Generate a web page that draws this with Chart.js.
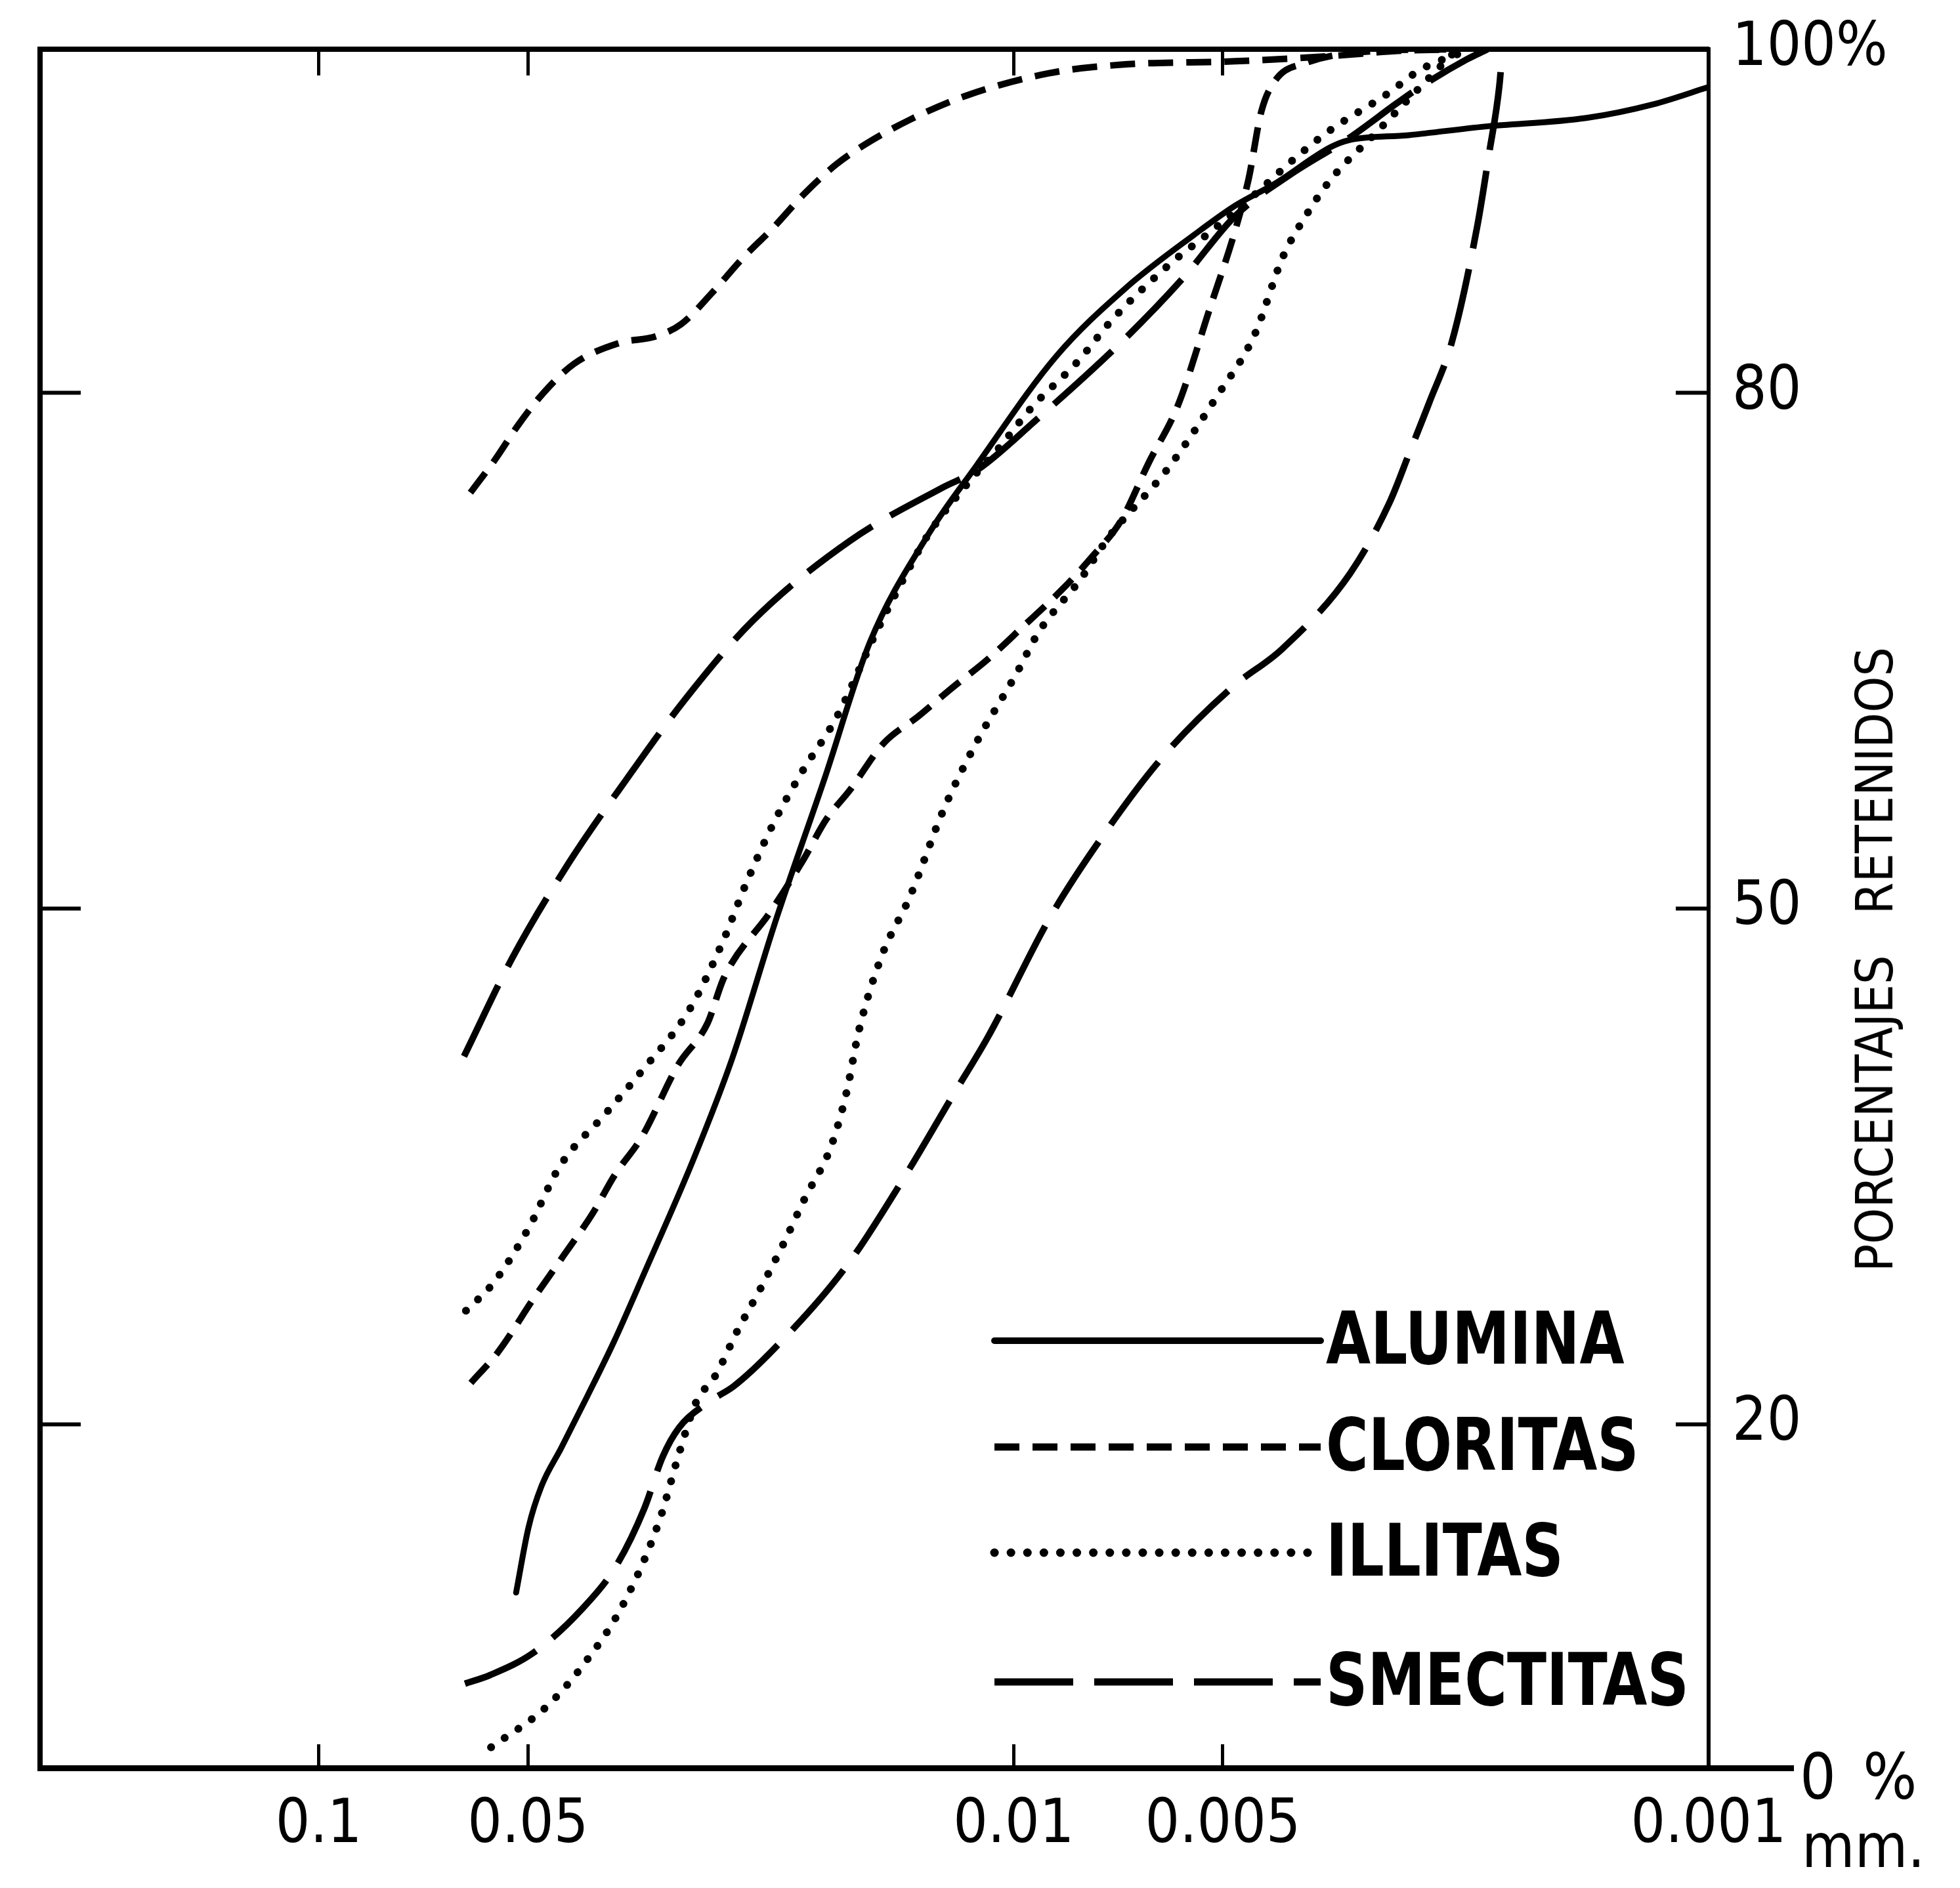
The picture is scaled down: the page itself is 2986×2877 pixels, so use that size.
<!DOCTYPE html>
<html>
<head>
<meta charset="utf-8">
<title>Porcentajes retenidos</title>
<script src="https://cdn.jsdelivr.net/npm/chart.js@4.4.0/dist/chart.umd.min.js"></script>
<style>
  html, body { margin: 0; padding: 0; background: #fff; }
  #wrap { position: relative; width: 2986px; height: 2877px; overflow: hidden; }
  #chart { position: absolute; left: 0; top: 0; }
  .label {
    position: absolute;
    color: #000;
    white-space: nowrap;
    font-family: "Liberation Sans Narrow", "DejaVu Sans Condensed", "Liberation Sans", sans-serif;
  }
  #yTitle {
    left: 2856px;
    top: 1462px;
    font-size: 78px;
    word-spacing: 40px;
    transform: translate(-50%, -50%) rotate(-90deg);
  }
  #unit { left: 2745px; top: 2760px; font-size: 92px; }
  #zero { left: 2742px; top: 2652px; font-size: 96px; word-spacing: 14px; }
</style>
</head>
<body>
<div id="wrap">
  <canvas id="chart" width="2986" height="2877"></canvas>
  <div class="label" id="yTitle">PORCENTAJES RETENIDOS</div>
  <div class="label" id="zero">0 %</div>
  <div class="label" id="unit">mm.</div>
</div>
<script>
// grain size (mm) and retained percentage
const aluminaSize = [0.0520, 0.0499, 0.0478, 0.0448, 0.0411, 0.0376, 0.0340, 0.0289, 0.0254, 0.0220, 0.0187, 0.0161, 0.0133, 0.0113, 0.0087, 0.0069, 0.0055, 0.0048, 0.0042, 0.0035, 0.0033, 0.0027, 0.0021, 0.0015, 0.0012, 0.0010];
const aluminaPct = [10.2, 14.0, 16.4, 18.6, 21.6, 24.8, 28.8, 35.4, 41.3, 49.3, 57.6, 65.5, 71.7, 75.8, 82.1, 86.1, 89.2, 90.9, 92.2, 94.3, 94.7, 95.0, 95.5, 96.0, 96.8, 97.8];

const cloritasUpperSize = [0.0605, 0.0558, 0.0515, 0.0475, 0.0429, 0.0370, 0.0327, 0.0301, 0.0272, 0.0246, 0.0222, 0.0200, 0.0180, 0.0163, 0.0141, 0.0117, 0.0089, 0.0070, 0.0048, 0.0035, 0.0028, 0.0023];
const cloritasUpperPct = [74.2, 76.1, 78.2, 80.0, 81.7, 82.9, 83.3, 84.0, 85.8, 87.8, 89.6, 91.6, 93.3, 94.5, 95.9, 97.3, 98.6, 99.1, 99.3, 99.6, 99.9, 100];

const cloritasLowerSize = [0.0604, 0.0552, 0.0489, 0.0448, 0.0403, 0.0375, 0.0343, 0.0304, 0.0276, 0.0261, 0.0224, 0.0201, 0.0186, 0.0172, 0.0154, 0.0137, 0.0123, 0.0109, 0.0097, 0.0085, 0.0077, 0.0070, 0.0064, 0.0058, 0.0053, 0.0046, 0.0044, 0.0042, 0.0038, 0.0030, 0.0023];
const cloritasLowerPct = [22.4, 24.2, 27.4, 29.6, 32.3, 34.5, 36.7, 40.9, 43.3, 46.0, 49.8, 52.8, 55.2, 56.9, 59.6, 61.2, 62.8, 64.5, 66.4, 68.6, 70.5, 72.6, 75.9, 79.3, 84.1, 92.3, 96.4, 98.2, 99.2, 99.9, 100];

const illitasLeftSize = [0.0614, 0.0561, 0.0499, 0.0450, 0.0386, 0.0342, 0.0293, 0.0262, 0.0243, 0.0222, 0.0202, 0.0180, 0.0158, 0.0144, 0.0133, 0.0115, 0.0106, 0.0094, 0.0081, 0.0072, 0.0060, 0.0052, 0.0046, 0.0039, 0.0035, 0.0029, 0.0026, 0.0022];
const illitasLeftPct = [26.6, 28.2, 31.4, 35.0, 38.1, 40.6, 44.1, 48.1, 51.4, 54.9, 57.9, 61.1, 66.0, 69.2, 71.7, 75.0, 76.6, 79.2, 81.8, 84.3, 87.4, 89.4, 91.2, 93.8, 95.3, 97.4, 98.8, 100];

const illitasRightSize = [0.0565, 0.0472, 0.0418, 0.0366, 0.0324, 0.0302, 0.0287, 0.0268, 0.0250, 0.0232, 0.0215, 0.0200, 0.0183, 0.0174, 0.0167, 0.0155, 0.0141, 0.0126, 0.0113, 0.0099, 0.0092, 0.0080, 0.0073, 0.0060, 0.0051, 0.0045, 0.0041, 0.0038, 0.0035, 0.0030, 0.0026, 0.0023];
const illitasRightPct = [1.2, 3.5, 5.9, 9.4, 14.3, 18.5, 21.2, 22.9, 25.4, 27.8, 30.4, 33.1, 36.2, 39.3, 42.9, 47.2, 50.7, 55.8, 59.7, 63.7, 66.1, 69.2, 71.6, 75.6, 79.8, 83.4, 87.9, 90.3, 92.4, 95.2, 97.8, 100];

const smectitasLeftSize = [0.0618, 0.0527, 0.0436, 0.0361, 0.0298, 0.0238, 0.0172, 0.01265, 0.0113, 0.0093, 0.0069, 0.0057, 0.0048, 0.0040, 0.0033, 0.0028, 0.0026, 0.00223, 0.00208];
const smectitasLeftPct = [41.4, 47.1, 52.7, 57.5, 62.1, 66.7, 71.4, 74.5, 75.5, 78.4, 83.2, 86.7, 90.3, 92.7, 94.8, 96.9, 97.8, 99.4, 100];

const smectitasRightSize = [0.0616, 0.0567, 0.0491, 0.0419, 0.0374, 0.0340, 0.0320, 0.0303, 0.0272, 0.0253, 0.0221, 0.0174, 0.0143, 0.0122, 0.0109, 0.00886, 0.00742, 0.00611, 0.00484, 0.00411, 0.00328, 0.00288, 0.00269, 0.00252, 0.00234, 0.00215, 0.00207, 0.00200, 0.00198];
const smectitasRightPct = [4.9, 5.4, 6.7, 9.2, 11.7, 15.1, 18.1, 19.8, 21.4, 22.2, 24.4, 29.2, 34.5, 39.2, 42.5, 49.5, 54.3, 58.8, 62.9, 65.1, 69.5, 73.6, 76.6, 79.5, 83.0, 89.8, 93.9, 97.9, 100];

// axes
const xTicks = [0.1, 0.05, 0.01, 0.005, 0.001];
const xTickLabels = ["0.1", "0.05", "0.01", "0.005", "0.001"];
const topTicks = [0.1, 0.05, 0.01, 0.005];
const yTicks = [20, 50, 80, 100];
const yTickLabels = ["20", "50", "80", "100%"];
const zeroTicks = [0];
const leftTicks = [20, 50, 80];
const legendNames = ["ALUMINA", "CLORITAS", "ILLITAS", "SMECTITAS"];

const narrowFont = '"Liberation Sans Narrow", "DejaVu Sans Condensed", "Liberation Sans", sans-serif';
const sizeMin = 0.001;
const sizeMax = 0.2518;

const lineStyles = {
  ALUMINA: { borderDash: [], borderWidth: 9, borderCapStyle: "round" },
  CLORITAS: { borderDash: [38, 20], borderWidth: 10, borderCapStyle: "butt" },
  ILLITAS: { borderDash: [0.1, 25], borderWidth: 12, borderCapStyle: "round" },
  SMECTITAS: { borderDash: [120, 32], borderWidth: 10, borderCapStyle: "butt" },
};

function toPoints(xs, ys) {
  return xs.map((x, i) => ({ x: x, y: ys[i] }));
}

function makeSeries(label, xs, ys) {
  return Object.assign(
    {
      label: label,
      data: toPoints(xs, ys),
      borderColor: "#000",
      borderJoinStyle: "round",
      pointRadius: 0,
      fill: false,
      cubicInterpolationMode: "monotone",
    },
    lineStyles[label]
  );
}

function fixedTicks(values) {
  return (scale) => {
    scale.ticks = values.map((v) => ({ value: v }));
  };
}

// fixed box size, and no extra label padding pushed into the layout
function boxSize(prop, value) {
  return (scale) => {
    scale[prop] = value;
    scale.paddingTop = 0;
    scale.paddingBottom = 0;
    scale.paddingLeft = 0;
    scale.paddingRight = 0;
  };
}

// legend drawn inside the plot, bottom right
const cornerLegend = {
  id: "cornerLegend",
  afterDatasetsDraw(chart, args, opts) {
    const ctx = chart.ctx;
    ctx.save();
    opts.names.forEach((name, i) => {
      const ds = chart.data.datasets.find((d) => d.label === name);
      const y = opts.rows[i];
      ctx.beginPath();
      ctx.setLineDash(ds.borderDash);
      ctx.lineWidth = ds.borderWidth + 1;
      ctx.lineCap = ds.borderCapStyle;
      ctx.strokeStyle = "#000";
      ctx.moveTo(opts.x1, y);
      ctx.lineTo(opts.x2, y);
      ctx.stroke();
      ctx.setLineDash([]);
      ctx.save();
      ctx.translate(opts.textX, y + 6);
      ctx.scale(opts.squeeze, 1);
      ctx.font = opts.font;
      ctx.textBaseline = "middle";
      ctx.fillStyle = "#000";
      ctx.fillText(name, 0, 0);
      ctx.restore();
    });
    ctx.restore();
  },
};

const ctx = document.getElementById("chart").getContext("2d");
new Chart(ctx, {
  type: "line",
  data: {
    datasets: [
      makeSeries("ALUMINA", aluminaSize, aluminaPct),
      makeSeries("CLORITAS", cloritasUpperSize, cloritasUpperPct),
      makeSeries("CLORITAS", cloritasLowerSize, cloritasLowerPct),
      makeSeries("ILLITAS", illitasLeftSize, illitasLeftPct),
      makeSeries("ILLITAS", illitasRightSize, illitasRightPct),
      makeSeries("SMECTITAS", smectitasLeftSize, smectitasLeftPct),
      makeSeries("SMECTITAS", smectitasRightSize, smectitasRightPct),
    ],
  },
  options: {
    responsive: false,
    animation: false,
    events: [],
    layout: { padding: { left: 61, top: 75, right: 0, bottom: 0 } },
    plugins: {
      legend: { display: false },
      tooltip: { enabled: false },
      cornerLegend: {
        names: legendNames,
        rows: [2043, 2205, 2366, 2563],
        x1: 1515,
        x2: 2012,
        textX: 2020,
        squeeze: 0.89,
        font: "bold 110px " + narrowFont,
      },
    },
    scales: {
      x: {
        type: "logarithmic",
        position: "bottom",
        reverse: true,
        min: sizeMin,
        max: sizeMax,
        afterBuildTicks: fixedTicks(xTicks),
        afterFit: boxSize("height", 183),
        border: { display: true, color: "#000", width: 9 },
        grid: { drawOnChartArea: false, tickLength: -36, tickColor: "#000", tickWidth: 5 },
        ticks: {
          autoSkip: false,
          maxRotation: 0,
          padding: 70,
          color: "#000",
          font: { family: narrowFont, size: 92 },
          callback: (v) => xTickLabels[xTicks.indexOf(v)],
        },
      },
      xTop: {
        type: "logarithmic",
        position: "top",
        reverse: true,
        min: sizeMin,
        max: sizeMax,
        afterBuildTicks: fixedTicks(topTicks),
        afterFit: boxSize("height", 0),
        border: { display: true, color: "#000", width: 8 },
        grid: { drawOnChartArea: false, tickLength: -40, tickColor: "#000", tickWidth: 5 },
        ticks: { display: false },
      },
      y: {
        type: "linear",
        position: "right",
        min: 0,
        max: 100,
        afterBuildTicks: fixedTicks(yTicks),
        afterFit: boxSize("width", 383),
        border: { display: true, color: "#000", width: 6 },
        grid: { drawOnChartArea: false, tickLength: -50, tickColor: "#000", tickWidth: 6 },
        ticks: {
          autoSkip: false,
          padding: 86,
          color: "#000",
          font: { family: narrowFont, size: 92 },
          callback: (v) => yTickLabels[yTicks.indexOf(v)],
        },
      },
      yZero: {
        type: "linear",
        position: "right",
        weight: -1,
        min: 0,
        max: 100,
        afterBuildTicks: fixedTicks(zeroTicks),
        afterFit: boxSize("width", 0),
        border: { display: false },
        grid: { drawOnChartArea: false, tickLength: 130, tickColor: "#000", tickWidth: 9 },
        ticks: { display: false },
      },
      yLeft: {
        type: "linear",
        position: "left",
        min: 0,
        max: 100,
        afterBuildTicks: fixedTicks(leftTicks),
        afterFit: boxSize("width", 0),
        border: { display: true, color: "#000", width: 8 },
        grid: { drawOnChartArea: false, tickLength: -62, tickColor: "#000", tickWidth: 6 },
        ticks: { display: false },
      },
    },
  },
  plugins: [cornerLegend],
});
</script>
</body>
</html>
